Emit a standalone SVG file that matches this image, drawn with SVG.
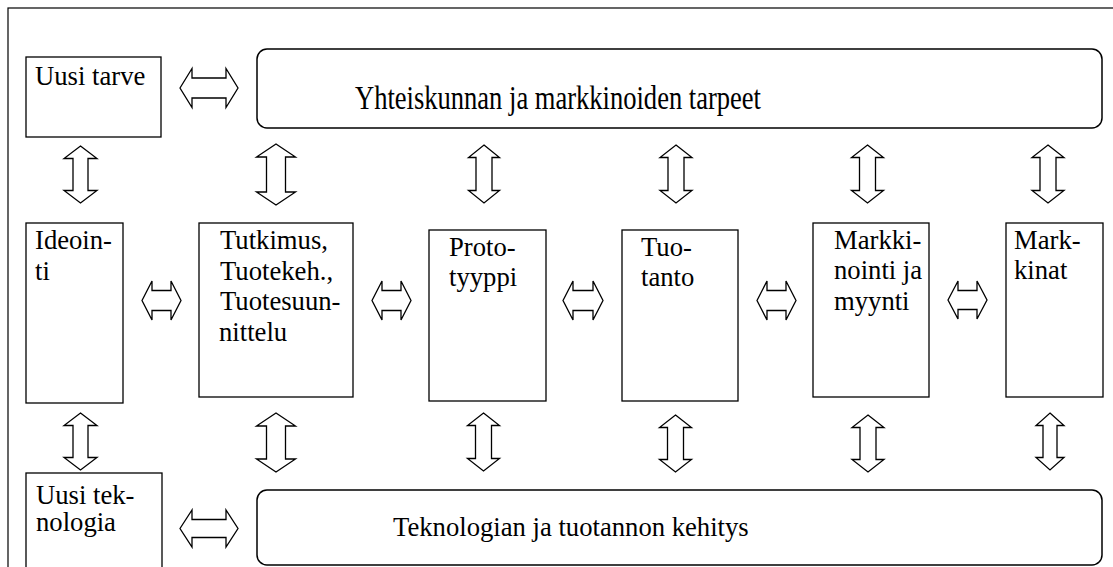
<svg xmlns="http://www.w3.org/2000/svg" width="1113" height="567" viewBox="0 0 1113 567">
  <style>
    .frame { fill: none; stroke: #000; stroke-width: 1.2; }
    .box { fill: #fff; stroke: #000; stroke-width: 1.3; }
    .wide { fill: #fff; stroke: #000; stroke-width: 1.5; }
    .arrow { fill: #fff; stroke: #000; stroke-width: 1.3; stroke-linejoin: miter; }
    text { font-family: "Liberation Serif", "Times New Roman", serif; font-size: 26.67px; fill: #000; }
  </style>

  <rect width="1113" height="567" fill="#fff"/>
  <!-- outer frame, open at right and bottom -->
  <rect class="frame" x="8" y="8" width="1120" height="580"/>

  <g id="uusi-tarve">
    <rect class="box" x="26" y="57" width="135" height="80"/>
    <text x="35" y="85">Uusi tarve</text>
  </g>

  <g id="tarpeet">
    <rect class="wide" x="257" y="49" width="845" height="79" rx="10" ry="10"/>
    <text transform="translate(355,109) scale(1,1.24)" textLength="406" lengthAdjust="spacingAndGlyphs">Yhteiskunnan ja markkinoiden tarpeet</text>
  </g>

  <g id="ideointi">
    <rect class="box" x="26" y="223" width="97" height="180"/>
    <text x="35" y="249">Ideoin-</text>
    <text x="35" y="280">ti</text>
  </g>

  <g id="tutkimus">
    <rect class="box" x="199" y="223" width="154" height="174"/>
    <text x="220" y="249">Tutkimus,</text>
    <text x="220" y="279.5">Tuotekeh.,</text>
    <text x="220" y="310">Tuotesuun-</text>
    <text x="219" y="341">nittelu</text>
  </g>

  <g id="prototyyppi">
    <rect class="box" x="429" y="230" width="117" height="171"/>
    <text x="449" y="256">Proto-</text>
    <text x="449" y="286">tyyppi</text>
  </g>

  <g id="tuotanto">
    <rect class="box" x="622" y="230" width="116" height="171"/>
    <text x="641" y="256">Tuo-</text>
    <text x="641" y="286">tanto</text>
  </g>

  <g id="markkinointi">
    <rect class="box" x="813" y="223" width="116" height="174"/>
    <text x="834" y="248.5">Markki-</text>
    <text x="834" y="279">nointi ja</text>
    <text x="834" y="309.5">myynti</text>
  </g>

  <g id="markkinat">
    <rect class="box" x="1006" y="223" width="97" height="174"/>
    <text x="1014" y="248.5">Mark-</text>
    <text x="1014" y="279">kinat</text>
  </g>

  <g id="uusi-teknologia">
    <rect class="box" x="26" y="473" width="136" height="120"/>
    <text x="36" y="503.5">Uusi tek-</text>
    <text x="36" y="531">nologia</text>
  </g>

  <g id="kehitys">
    <rect class="wide" x="257" y="490" width="845" height="75" rx="10" ry="10"/>
    <text x="393" y="536">Teknologian ja tuotannon kehitys</text>
  </g>

  <g id="connectors">
    <!-- horizontal double arrows -->
    <path class="arrow" d="M180,88 L192,68.5 L192,78 L226,78 L226,68.5 L238,88 L226,107.5 L226,98 L192,98 L192,107.5 Z"/>
    <path class="arrow" d="M180,528.5 L192,510 L192,519.5 L226,519.5 L226,510 L238,528.5 L226,547 L226,537.5 L192,537.5 L192,547 Z"/>
    <path class="arrow" d="M142,300.5 L152,281 L152,290.5 L171,290.5 L171,281 L181,300.5 L171,320 L171,310.5 L152,310.5 L152,320 Z"/>
    <path class="arrow" d="M372,300.5 L382,281 L382,290.5 L401,290.5 L401,281 L411,300.5 L401,320 L401,310.5 L382,310.5 L382,320 Z"/>
    <path class="arrow" d="M563,300.5 L573,281 L573,290.5 L593,290.5 L593,281 L603,300.5 L593,320 L593,310.5 L573,310.5 L573,320 Z"/>
    <path class="arrow" d="M757,300.5 L767,281 L767,290.5 L786,290.5 L786,281 L796,300.5 L786,320 L786,310.5 L767,310.5 L767,320 Z"/>
    <path class="arrow" d="M948,300 L958,281 L958,290.5 L977,290.5 L977,281 L987,300 L977,319 L977,309.5 L958,309.5 L958,319 Z"/>

    <!-- vertical double arrows, upper row -->
    <path class="arrow" d="M80.5,146 L97,158.5 L88,158.5 L88,190.5 L97,190.5 L80.5,203 L64,190.5 L73,190.5 L73,158.5 L64,158.5 Z"/>
    <path class="arrow" d="M276,144 L295.5,157 L285.5,157 L285.5,192 L295.5,192 L276,205 L256.5,192 L266.5,192 L266.5,157 L256.5,157 Z"/>
    <path class="arrow" d="M484,145 L499.5,157.5 L492,157.5 L492,190.5 L499.5,190.5 L484,203 L468.5,190.5 L476,190.5 L476,157.5 L468.5,157.5 Z"/>
    <path class="arrow" d="M676,145 L692,157.5 L684,157.5 L684,190.5 L692,190.5 L676,203 L660,190.5 L668,190.5 L668,157.5 L660,157.5 Z"/>
    <path class="arrow" d="M867.5,145 L883.5,157.5 L875.5,157.5 L875.5,190.5 L883.5,190.5 L867.5,203 L851.5,190.5 L859.5,190.5 L859.5,157.5 L851.5,157.5 Z"/>
    <path class="arrow" d="M1048,145 L1064,157.5 L1056,157.5 L1056,190.5 L1064,190.5 L1048,203 L1032,190.5 L1040,190.5 L1040,157.5 L1032,157.5 Z"/>

    <!-- vertical double arrows, lower row -->
    <path class="arrow" d="M80.5,413 L97,425.5 L88,425.5 L88,457.5 L97,457.5 L80.5,470 L64,457.5 L73,457.5 L73,425.5 L64,425.5 Z"/>
    <path class="arrow" d="M276,413 L295.5,426 L285.5,426 L285.5,459 L295.5,459 L276,472 L256.5,459 L266.5,459 L266.5,426 L256.5,426 Z"/>
    <path class="arrow" d="M483.5,413 L499.5,425.5 L491.5,425.5 L491.5,458.5 L499.5,458.5 L483.5,471 L467.5,458.5 L475.5,458.5 L475.5,425.5 L467.5,425.5 Z"/>
    <path class="arrow" d="M675.5,415 L691.5,427.5 L683.5,427.5 L683.5,459.5 L691.5,459.5 L675.5,472 L659.5,459.5 L667.5,459.5 L667.5,427.5 L659.5,427.5 Z"/>
    <path class="arrow" d="M868,415 L884,427.5 L876,427.5 L876,459.5 L884,459.5 L868,472 L852,459.5 L860,459.5 L860,427.5 L852,427.5 Z"/>
    <path class="arrow" d="M1050,413 L1064,425.5 L1057,425.5 L1057,457.5 L1064,457.5 L1050,470 L1036,457.5 L1043,457.5 L1043,425.5 L1036,425.5 Z"/>
  </g>
</svg>
